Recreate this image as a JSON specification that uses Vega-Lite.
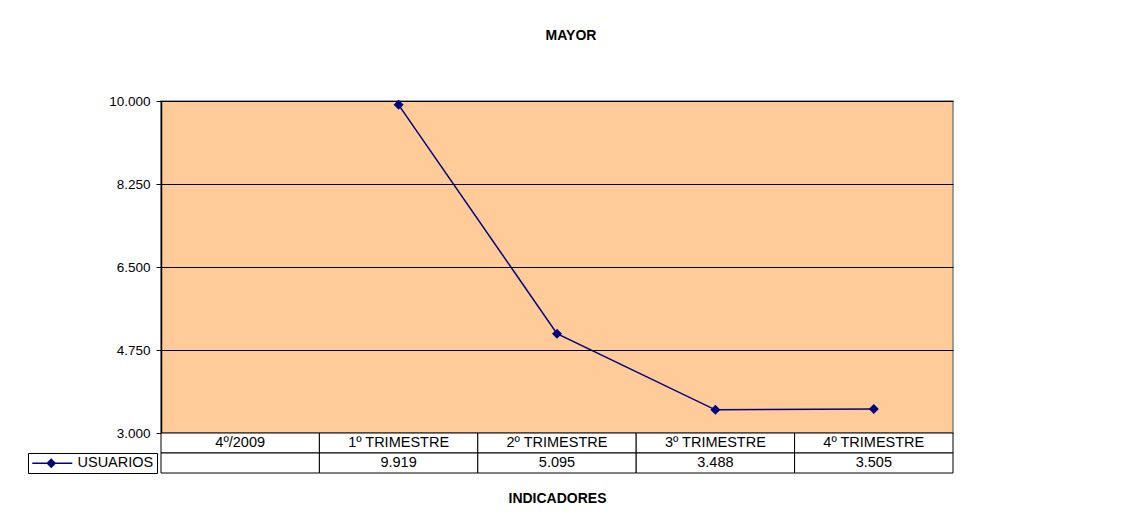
{
  "$schema": "https://vega.github.io/schema/vega-lite/v6.json",
  "padding": {"left": 26, "top": 28, "right": 5, "bottom": 5},
  "bounds": "flush",
  "spacing": 0,
  "background": "white",
  "config": {
    "font": "Liberation Sans",
    "locale": {"number": {"decimal": ",", "thousands": ".", "grouping": [3], "currency": ["", " €"]}},
    "axis": {"labelColor": "black", "titleColor": "black"}
  },
  "data": {
    "values": [
      {"cat": "4º/2009", "series": "USUARIOS", "value": null},
      {"cat": "1º TRIMESTRE", "series": "USUARIOS", "value": 9919},
      {"cat": "2º TRIMESTRE", "series": "USUARIOS", "value": 5095},
      {"cat": "3º TRIMESTRE", "series": "USUARIOS", "value": 3488},
      {"cat": "4º TRIMESTRE", "series": "USUARIOS", "value": 3505}
    ]
  },
  "resolve": {"scale": {"x": "independent", "color": "independent"}, "legend": {"color": "independent"}},
  "vconcat": [
    {
      "width": 792,
      "height": 332,
      "title": {"text": "MAYOR", "fontSize": 14, "fontWeight": "bold", "font": "Liberation Sans", "color": "black", "offset": 51, "frame": "group", "anchor": "middle", "dx": 14},
      "view": {"fill": "#FFCC99", "stroke": "#808080", "strokeWidth": 1.5},
      "mark": {"type": "line", "strokeWidth": 1.5, "point": {"shape": "diamond", "size": 100, "filled": true}},
      "encoding": {
        "x": {"field": "cat", "type": "nominal", "sort": null,
              "scale": {"type": "point", "padding": 0.5, "domain": ["4º/2009", "1º TRIMESTRE", "2º TRIMESTRE", "3º TRIMESTRE", "4º TRIMESTRE"]},
              "axis": null},
        "y": {"field": "value", "type": "quantitative",
              "scale": {"domain": [3000, 10000], "nice": false, "zero": false},
              "axis": {"values": [3000, 4750, 6500, 8250, 10000], "format": ",d", "title": null,
                       "grid": true, "gridColor": "black", "gridOpacity": 1, "gridWidth": 1,
                       "tickColor": "black", "tickSize": 5, "domainColor": "black", "domainWidth": 1.5,
                       "labelFontSize": 13.5, "labelPadding": 6}},
        "color": {"field": "series", "type": "nominal", "scale": {"range": ["#000080"]},
                  "legend": {"orient": "none", "legendX": -133, "legendY": 352, "title": null,
                             "symbolType": "M-1,0H5.667M2.167,-0.667L2.833,0L2.167,0.667L1.5,0Z",
                             "symbolSize": 144, "symbolStrokeWidth": 1.3, "symbolFillColor": "#000080", "symbolStrokeColor": "#000080",
                             "labelOffset": 32, "labelFontSize": 14.5, "labelColor": "black",
                             "labelExpr": "datum.label + '\u00a0\u00a0'",
                             "padding": 3, "strokeColor": "black", "fillColor": "white"}}
      }
    },
    {
      "width": 792,
      "height": 40,
      "view": {"stroke": null},
      "encoding": {
        "x": {"field": "cat", "type": "nominal", "sort": null,
              "scale": {"type": "band", "paddingInner": 0, "paddingOuter": 0, "domain": ["4º/2009", "1º TRIMESTRE", "2º TRIMESTRE", "3º TRIMESTRE", "4º TRIMESTRE"]},
              "axis": {"title": "INDICADORES", "labels": false, "ticks": false, "domain": false,
                       "titleFontSize": 14, "titleFontWeight": "bold", "titlePadding": 18}}
      },
      "layer": [
        {"mark": {"type": "rect", "fill": "white", "stroke": "black", "strokeWidth": 1},
         "encoding": {"y": {"datum": "r1", "type": "nominal", "scale": {"domain": ["r1", "r2"], "paddingInner": 0, "paddingOuter": 0}, "axis": null}}},
        {"mark": {"type": "rect", "fill": "white", "stroke": "black", "strokeWidth": 1},
         "encoding": {"y": {"datum": "r2", "type": "nominal", "axis": null}}},
        {"mark": {"type": "text", "fontSize": 14.5, "color": "black"},
         "encoding": {"y": {"datum": "r1", "type": "nominal", "axis": null}, "text": {"field": "cat"}}},
        {"transform": [{"filter": {"field": "value", "valid": true}}],
         "mark": {"type": "text", "fontSize": 14.5, "color": "black"},
         "encoding": {"y": {"datum": "r2", "type": "nominal", "axis": null}, "text": {"field": "value", "type": "quantitative", "format": ",d"}}}
      ]
    }
  ]
}
